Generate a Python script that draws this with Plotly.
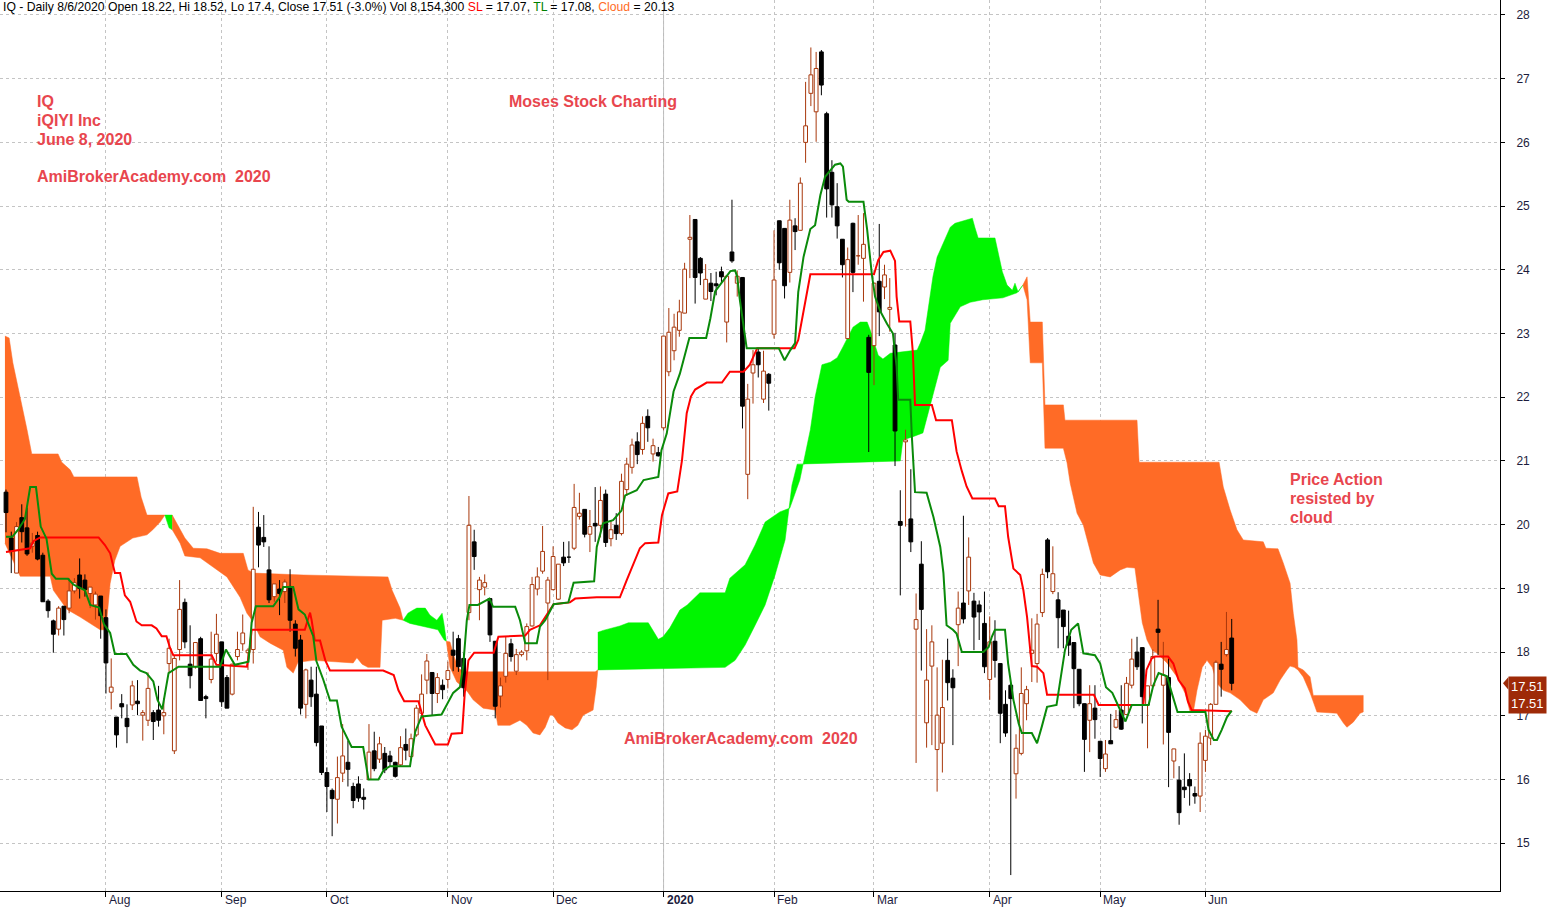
import plotly.graph_objects as go

# ---------------- data ----------------
# bar index 0 = 2019-07-05 ... 233 = 2020-06-08 (trading days)
month_bars = [19, 41, 61, 84, 104, 125, 146, 165, 187, 208, 228]
month_labels = ["Aug", "Sep", "Oct", "Nov", "Dec", "<b>2020</b>", "Feb", "Mar", "Apr", "May", "Jun"]

opens = [20.51,19.79,19.24,20.11,19.95,19.66,19.83,19.52,18.80,18.49,18.36,18.72,18.69,18.96,19.21,19.13,18.92,18.74,18.88,18.54,
 17.37,16.98,17.19,16.96,17.17,17.23,17.01,16.93,17.05,17.09,17.00,17.82,16.45,18.04,18.78,17.81,17.77,18.21,17.30,17.57,
 17.98,18.16,17.60,17.34,17.93,18.13,17.99,18.04,19.96,19.80,19.29,18.87,18.99,18.95,19.03,18.44,18.19,17.18,17.56,17.34,
 16.84,16.11,15.83,15.69,16.10,16.27,15.89,15.93,15.72,16.00,16.45,16.32,16.41,16.37,16.27,16.23,16.55,16.36,16.70,17.04,
 17.56,17.68,17.35,17.48,17.57,18.03,18.21,17.90,18.62,19.73,18.98,19.02,18.84,18.17,17.31,17.62,18.13,17.70,17.96,18.02,
 18.41,18.99,19.27,18.77,18.98,18.83,19.49,19.49,19.63,20.13,20.24,19.85,20.02,19.99,20.48,19.78,19.99,19.86,20.55,20.90,
 21.30,21.18,21.70,21.11,21.13,21.52,22.40,22.73,23.05,23.32,24.48,24.79,24.18,23.54,23.79,23.78,23.97,23.18,24.28,23.79,
 23.88,20.79,22.38,22.71,21.97,22.36,22.99,24.77,24.65,23.96,24.69,24.62,26.00,26.77,26.48,27.42,26.45,25.53,24.99,24.48,
 22.92,24.73,24.22,24.18,22.94,22.81,23.82,23.73,23.38,22.82,20.05,21.30,20.09,18.36,19.38,16.89,17.78,16.47,16.57,17.87,
 17.59,18.43,18.77,18.96,18.80,18.74,18.45,17.57,18.17,17.82,17.18,17.48,16.09,16.41,17.19,17.98,17.82,18.62,19.76,18.95,
 18.82,18.66,18.25,18.15,17.73,17.19,16.93,17.12,16.60,16.17,16.61,16.82,17.09,17.02,17.48,18.00,18.07,17.17,17.47,18.36,
 17.48,17.60,16.29,15.99,15.88,16.00,15.78,15.74,16.30,16.65,17.18,17.81,17.96,18.22]
highs = [20.55,19.89,20.04,20.32,20.27,19.87,19.89,19.56,18.83,18.51,18.72,18.72,19.16,19.16,19.47,19.22,19.02,18.95,18.88,18.67,
 17.90,16.98,17.34,17.18,17.55,17.56,17.09,17.68,17.09,17.47,17.28,18.21,17.95,19.13,18.84,18.42,18.15,18.24,17.33,18.32,
 18.60,18.16,17.64,17.82,18.32,18.59,18.06,20.28,20.20,20.15,19.66,19.07,19.13,19.14,19.30,18.50,18.27,17.74,17.77,17.77,
 16.84,16.19,15.86,16.36,16.87,16.61,15.95,16.05,15.86,16.87,16.75,16.67,16.51,16.45,16.28,16.68,16.80,16.72,17.17,17.65,
 17.97,17.68,17.67,17.57,17.85,18.32,18.27,17.98,20.45,19.92,19.18,19.22,18.84,18.17,17.60,18.25,18.21,18.05,18.03,18.45,
 19.18,19.33,19.98,19.18,19.66,19.38,19.73,19.74,20.64,20.50,20.24,20.23,20.59,20.60,20.55,20.07,20.18,20.80,21.05,21.35,
 21.45,21.70,21.81,21.35,21.22,22.96,23.40,23.31,23.53,24.11,24.86,24.79,24.20,24.09,23.95,23.97,24.05,23.90,25.10,23.99,
 23.88,22.21,22.74,22.77,22.73,22.38,24.62,24.77,24.65,25.10,24.81,25.45,26.95,27.49,27.42,27.45,26.48,25.72,25.36,24.48,
 24.35,24.74,24.86,24.89,22.98,23.80,24.72,24.08,23.87,23.01,20.54,21.49,20.87,18.92,19.74,18.36,18.42,17.76,17.88,18.21,
 17.73,18.95,20.14,19.80,18.93,18.81,18.95,18.56,18.50,17.82,17.40,17.51,16.71,17.76,17.47,18.53,18.60,19.31,19.79,19.66,
 18.94,18.66,18.65,18.15,17.73,17.19,17.48,17.48,16.60,16.62,17.03,17.09,17.48,17.61,18.21,18.24,18.07,17.47,18.04,18.82,
 18.16,17.90,16.48,16.21,16.41,16.10,15.89,16.74,16.78,17.20,17.87,18.16,18.63,18.52]
lows = [19.88,19.24,19.24,19.72,19.51,19.56,19.44,18.79,18.54,17.99,18.26,18.26,18.61,18.92,18.84,18.87,18.69,18.51,18.21,17.35,
 17.10,16.50,16.96,16.57,17.09,17.01,16.61,16.84,16.62,16.83,16.71,17.67,16.40,17.87,18.06,17.43,17.74,17.24,16.96,17.51,
 17.85,17.14,17.12,17.32,17.87,18.02,17.72,17.82,19.33,19.65,18.77,18.79,18.58,18.77,18.32,17.93,17.02,16.96,17.14,16.52,
 16.07,15.49,15.11,15.31,15.96,15.89,15.55,15.65,15.53,15.99,16.13,16.26,16.10,16.20,16.03,16.21,16.30,16.33,16.67,16.98,
 17.34,17.01,17.20,17.26,17.43,17.70,17.69,17.30,18.50,19.29,18.50,18.89,18.16,16.96,17.13,17.52,17.85,17.64,17.93,17.87,
 18.40,18.89,19.23,17.56,18.97,18.82,19.35,19.40,19.60,20.08,19.80,19.57,19.73,19.80,19.65,19.66,19.76,19.83,20.45,20.80,
 20.95,21.10,21.30,20.99,21.07,21.48,22.33,22.58,22.95,23.32,23.87,23.47,23.76,23.54,23.51,23.60,23.79,22.86,24.11,23.58,
 21.51,20.40,21.90,22.31,21.91,21.79,22.92,24.00,23.55,23.80,24.31,24.62,25.68,26.57,26.01,26.74,24.82,24.82,24.49,23.88,
 22.92,23.65,24.08,23.50,21.14,22.19,22.96,23.54,23.03,20.92,18.89,19.97,19.57,16.26,17.71,16.50,16.54,15.81,16.11,17.24,
 16.54,17.78,18.45,18.74,18.03,18.19,17.67,17.25,17.60,16.57,16.67,14.50,15.70,16.38,16.93,17.53,17.52,18.55,19.16,18.91,
 18.06,18.06,17.94,17.12,17.15,16.12,16.43,16.64,16.04,16.12,16.56,16.80,16.78,17.01,17.43,17.72,16.88,16.49,17.47,17.95,
 16.55,15.88,16.02,15.29,15.71,15.59,15.62,15.49,16.12,16.54,17.18,17.30,17.93,17.40]
closes = [20.19,19.58,19.97,19.89,19.54,19.71,19.46,18.79,18.65,18.28,18.69,18.51,18.96,19.09,19.00,18.98,19.02,18.91,18.57,17.83,
 17.45,16.70,17.14,16.83,17.47,17.19,17.05,17.43,16.91,16.93,17.05,18.06,17.90,18.67,18.16,17.63,18.15,17.24,17.27,17.89,
 18.28,17.22,17.12,17.81,18.04,18.30,18.03,19.30,19.68,19.73,18.82,19.07,18.92,19.10,18.50,18.06,17.12,17.72,17.30,16.58,
 16.11,15.89,15.70,16.03,16.37,16.16,15.67,15.71,15.69,16.43,16.17,16.56,16.15,16.28,16.05,16.50,16.46,16.64,17.12,17.34,
 17.86,17.35,17.60,17.41,17.71,17.95,17.77,17.44,19.99,19.50,19.13,19.09,18.27,17.15,17.47,17.98,17.93,17.96,18.00,18.40,
 19.06,19.18,19.58,19.13,19.50,19.38,19.40,19.48,20.27,20.18,19.85,19.97,19.98,20.38,19.72,19.92,19.86,20.68,20.95,21.25,
 21.10,21.59,21.52,21.24,21.08,22.96,23.02,23.10,23.34,24.01,24.51,23.88,23.95,23.85,23.66,23.75,23.89,23.90,24.14,23.90,
 21.86,21.97,22.51,22.51,22.41,22.22,23.84,24.11,23.75,24.78,24.60,25.36,26.26,27.06,27.16,26.90,25.27,25.02,24.69,24.08,
 24.16,23.96,24.23,24.40,22.39,23.79,23.34,23.92,23.41,21.47,19.99,21.33,19.73,18.51,18.67,17.56,18.16,17.01,17.13,17.52,
 17.44,18.69,18.52,19.49,18.55,18.63,17.77,18.16,17.87,17.04,16.73,17.27,16.49,17.35,17.41,18.03,18.44,19.22,19.26,19.23,
 18.54,18.40,18.11,17.74,17.19,16.63,17.19,16.94,16.33,16.40,16.56,16.94,16.79,17.51,17.89,17.77,17.30,17.47,17.93,18.31,
 17.64,16.74,16.48,15.48,15.84,15.90,15.74,16.57,16.68,17.18,17.84,17.73,18.04,17.51]

# Turning line (TL, green) vertices: (bar, price)
tenkan = [(0,19.81),(1.2,19.81),(2.3,19.92),(3.6,20.09),(4.6,20.59),(5.7,20.59),(6.6,19.97),(7.7,19.78),(8.7,19.23),(9.5,19.15),
 (11.8,19.15),(12.8,19.06),(15.0,18.97),(16.0,18.74),(17.7,18.70),(18.6,18.44),(19.8,18.30),(20.7,17.97),(22.9,17.97),(24.2,17.80),
 (25.5,17.71),(26.7,17.67),(28.0,17.54),(28.8,17.25),(29.7,17.10),(30.9,17.67),(32.8,17.77),(40.7,17.77),(41.8,18.04),(43.5,17.80),
 (46.1,17.85),(46.7,18.46),(47.5,18.72),(50.8,18.72),(52.0,18.86),(52.7,19.02),(54.6,19.02),(55.6,18.67),(56.8,18.59),(58.4,18.25),
 (59.0,17.86),(60.3,17.57),(61.6,17.24),(62.9,17.24),(63.8,16.83),(65.7,16.51),(67.9,16.51),(68.9,16.00),(70.8,16.00),(71.8,16.15),
 (73.0,16.21),(76.8,16.21),(77.8,16.75),(79.0,16.99),(82.8,17.02),(84.1,17.22),(85.0,17.36),(86.3,17.45),(86.9,17.77),(87.6,18.50),
 (88.1,18.74),(89.7,18.74),(91.9,18.84),(92.6,18.71),(96.8,18.71),(97.7,18.50),(98.7,18.14),(100.9,18.14),(101.5,18.40),(102.5,18.50),
 (104.1,18.75),(106.9,18.78),(107.9,19.09),(111.8,19.11),(112.3,19.65),(113.5,20.02),(115.4,20.07),(117.0,20.22),(117.7,20.46),(119.9,20.54),
 (121.2,20.70),(124.0,20.75),(124.6,21.17),(125.6,21.43),(126.9,22.09),(128.1,22.37),(129.9,22.93),(133.1,22.93),(133.9,23.24),(134.8,23.66),
 (136.4,23.84),(137.7,23.98),(138.6,23.99),(139.0,23.89),(139.5,23.53),(140.5,22.95),(140.8,22.77),(146.9,22.77),(148.0,22.58),(149.1,22.74),
 (150.0,22.85),(150.6,23.65),(151.6,24.20),(152.9,24.64),(153.8,24.70),(154.8,25.17),(155.7,25.46),(157.6,25.65),(158.6,25.67),(159.1,25.62),
 (159.8,25.10),(160.2,25.07),(163.0,25.07),(163.7,24.63),(164.6,23.92),(165.2,23.58),(166.2,23.35),(167.5,23.15),(168.6,23.00),(169.3,22.48),
 (169.6,21.96),(171.9,21.96),(172.2,21.38),(172.8,20.51),(175.0,20.50),(176.3,20.12),(177.6,19.65),(178.2,19.24),(178.8,18.42),(180.0,18.35),
 (180.7,18.29),(181.7,18.00),(185.8,18.00),(186.8,18.08),(187.4,18.24),(188.0,18.35),(189.9,18.35),(190.5,17.82),(191.5,17.25),(192.5,16.88),
 (193.1,16.73),(195.0,16.73),(196.0,16.57),(196.9,16.83),(197.9,17.14),(199.7,17.17),(200.4,17.56),(201.3,18.03),(202.5,18.35),(203.8,18.45),
 (204.8,17.98),(207.0,17.95),(208.0,17.82),(209.1,17.45),(210.3,17.36),(211.2,17.20),(211.9,17.09),(212.8,16.91),(213.2,17.00),(214.0,17.17),
 (217.2,17.17),(218.1,17.48),(219.1,17.67),(220.7,17.62),(221.6,17.36),(222.7,17.06),(228.0,17.06),(228.6,16.78),(229.6,16.62),(230.2,16.62),
 (231.1,16.78),(232.1,16.98),(233.0,17.08)]

# Standard line (SL, red) vertices: (bar, price)
kijun = [(0,19.57),(4.6,19.63),(5.2,19.74),(6.5,19.80),(17.6,19.80),(18.8,19.68),(19.8,19.55),(20.7,19.24),(21.7,19.24),(22.6,18.89),
 (23.6,18.79),(24.2,18.63),(24.8,18.48),(25.8,18.42),(27.7,18.42),(28.6,18.37),(29.6,18.25),(30.5,18.25),(31.2,18.06),(31.8,17.95),
 (39.1,17.95),(40.0,17.80),(45.8,17.77),(46.3,18.03),(46.7,18.35),(56.8,18.35),(57.8,18.62),(58.1,18.50),(58.7,18.18),(59.7,18.18),
 (60.7,17.87),(61.6,17.71),(71.7,17.71),(73.7,17.64),(74.6,17.40),(75.7,17.23),(78.4,17.23),(79.7,16.85),(81.6,16.55),(84.0,16.55),
 (84.7,16.72),(86.7,16.73),(87.2,17.35),(87.9,17.87),(89.0,17.99),(92.7,17.99),(93.6,18.24),(98.7,18.26),(99.6,18.35),(101.5,18.42),
 (102.8,18.58),(104.1,18.75),(107.2,18.78),(108.2,18.84),(112.3,18.86),(116.7,18.86),(118.0,19.13),(120.5,19.63),(121.5,19.71),(124.0,19.72),
 (124.7,20.15),(125.3,20.33),(125.9,20.49),(127.6,20.52),(128.5,21.01),(129.4,21.75),(130.2,22.01),(131.0,22.12),(133.2,22.23),(136.1,22.23),
 (137.6,22.40),(140.2,22.40),(141.4,22.51),(142.8,22.77),(149.9,22.77),(150.6,22.90),(151.6,23.34),(152.5,23.76),(152.9,23.93),(165.0,23.93),
 (165.8,24.15),(166.8,24.28),(168.1,24.30),(169.0,24.14),(169.3,23.58),(169.8,23.19),(171.9,23.19),(172.4,22.69),(172.8,21.88),(176.0,21.88),
 (176.8,21.64),(179.8,21.64),(180.7,21.15),(181.7,20.84),(182.6,20.60),(183.7,20.41),(188.0,20.41),(188.7,20.29),(189.9,20.29),(190.5,19.81),
 (191.5,19.31),(192.8,19.21),(193.4,18.97),(194.1,18.55),(194.7,18.03),(195.0,17.78),(196.0,17.77),(197.2,17.67),(197.9,17.33),(206.8,17.33),
 (207.7,17.17),(216.2,17.17),(216.8,17.72),(217.8,17.90),(218.4,17.93),(220.9,17.93),(221.9,17.82),(222.9,17.56),(224.1,17.43),(224.7,17.22),
 (225.4,17.09),(233.0,17.07)]

# Cloud regions (shifted forward), upper and lower edges: (bar, price)
o1_top = [(-0.2,22.96),(0.6,22.93),(1.3,22.54),(2.7,22.01),(4.0,21.49),(4.9,21.11),(9.9,21.11),(10.6,20.98),(12.2,20.86),(12.9,20.75),
 (24.9,20.75),(25.7,20.43),(26.8,20.15),(30.2,20.15)]
o1_bot = [(-0.2,19.71),(1.3,19.44),(2.7,19.19),(8.4,19.19),(9.0,18.97),(10.3,18.82),(11.6,18.67),(14.1,18.55),(17.9,18.35),(19.0,18.35),
 (19.8,19.08),(20.7,19.44),(21.7,19.66),(24.1,19.79),(26.8,19.84),(27.9,19.92),(29.3,20.04),(30.2,20.15)]
g1_top = [(30.2,20.15),(31.6,20.15)]
g1_bot = [(30.2,20.15),(31.0,19.95),(31.6,19.92)]
o2_top = [(31.6,20.15),(33.5,19.87),(34.0,19.79),(35.6,19.63),(38.2,19.62),(40.7,19.55),(45.1,19.55),(46.0,19.29),(47.0,19.24),(56.5,19.21),
 (72.6,19.18),(73.4,18.97),(74.3,18.79),(74.9,18.69),(75.5,18.50)]
o2_bot = [(31.6,19.92),(33.1,19.71),(34.0,19.51),(36.9,19.48),(39.4,19.33),(42.0,19.18),(44.5,18.86),(45.8,18.61),(46.8,18.50),(48.3,18.24),
 (50.2,18.14),(52.7,18.03),(53.4,17.76),(54.6,17.67),(55.5,17.84),(58.4,17.87),(66.0,17.83),(66.7,17.91),(67.7,17.81),(68.8,17.76),
 (71.1,17.76),(71.5,18.50),(74.0,18.53),(75.5,18.50)]
g2_top = [(75.5,18.50),(76.4,18.61),(77.4,18.66),(78.1,18.69),(79.7,18.69),(80.6,18.58),(81.9,18.50),(82.9,18.61),(83.3,18.42),(83.7,18.17)]
g2_bot = [(75.5,18.50),(76.8,18.45),(80.0,18.39),(82.1,18.35),(83.3,18.19),(83.7,18.17)]
o3_top = [(83.7,18.17),(84.4,18.16),(85.0,17.98),(85.9,17.76),(86.9,17.69),(112.0,17.69),(112.5,17.72)]
o3_bot = [(83.7,18.17),(84.4,17.76),(85.7,17.53),(86.9,17.45),(87.8,17.37),(88.8,17.25),(90.7,17.12),(93.0,17.09),(93.5,16.85),(95.8,16.85),
 (97.7,16.93),(99.0,16.85),(100.2,16.73),(101.5,16.70),(102.5,16.82),(103.4,17.01),(104.0,17.01),(104.9,16.89),(106.3,16.81),(107.6,16.78),
 (108.7,16.85),(109.7,17.01),(111.6,17.09),(112.2,17.45),(112.5,17.72)]
g3_top = [(112.5,18.31),(113.5,18.34),(116.7,18.41),(118.3,18.46),(122.1,18.46),(124.0,18.20),(124.9,18.24),(126.2,18.38),(128.1,18.66),(129.5,18.74),
 (131.9,18.93),(136.7,18.93),(137.6,19.16),(140.5,19.37),(142.4,19.68),(144.3,20.04),(147.1,20.20),(149.0,20.26),(150.9,20.70),(152.9,21.49),
 (153.8,22.00),(155.1,22.51),(156.7,22.55),(158.0,22.62),(159.1,22.79),(160.1,22.95),(161.0,23.10),(162.4,23.18),(163.7,23.18),(164.3,23.05),
 (165.8,22.66),(166.7,22.60),(168.1,22.69),(173.2,22.74),(173.8,22.85),(174.7,23.05),(175.3,23.37),(175.7,23.65),(176.2,23.89),(177.0,24.20),
 (178.1,24.42),(179.5,24.67),(180.4,24.73),(182.7,24.78),(183.7,24.81),(184.2,24.66),(184.8,24.50),(188.0,24.50),(189.4,23.97),(190.3,23.76),
 (191.3,23.68),(191.8,23.79),(192.4,23.65),(193.3,23.76)]
g3_bot = [(112.5,17.72),(136.7,17.76),(138.6,17.87),(140.5,18.11),(142.4,18.42),(144.3,18.74),(146.2,19.21),(148.1,19.76),(149.4,20.62),(150.4,20.95),
 (170.0,21.00),(170.5,21.33),(172.4,21.38),(174.3,21.44),(175.3,21.75),(176.6,22.16),(177.6,22.47),(179.1,22.58),(179.5,23.16),(181.4,23.42),
 (183.3,23.49),(185.7,23.53),(189.5,23.56),(192.2,23.64),(193.3,23.76)]
o4_top = [(193.3,23.76),(194.1,23.89),(194.7,23.18),(197.0,23.18),(197.5,21.88),(201.0,21.88),(201.3,21.64),(215.0,21.64),(215.4,20.98),(230.6,20.98),
 (231.4,20.59),(232.7,20.23),(234.0,19.92),(235.2,19.76),(239.0,19.73),(239.5,19.63),(241.8,19.62),(242.8,19.40),(244.1,19.08),(244.7,18.61),
 (245.4,18.19),(245.6,17.76),(246.6,17.72),(247.9,17.61),(248.5,17.32),(258.0,17.32)]
o4_bot = [(193.3,23.76),(194.1,23.53),(194.7,22.54),(197.0,22.54),(197.5,21.20),(201.0,21.20),(201.7,20.97),(202.3,20.65),(203.6,20.18),(204.8,19.99),
 (206.1,19.60),(206.7,19.40),(208.0,19.21),(209.9,19.18),(211.8,19.29),(213.1,19.33),(214.6,19.32),(215.2,18.97),(216.0,18.46),(216.9,18.19),
 (217.9,18.03),(218.8,17.98),(220.7,17.83),(222.6,17.61),(224.1,17.36),(225.1,17.06),(225.7,17.06),(226.4,17.40),(227.4,17.76),(228.3,17.87),
 (229.3,17.76),(230.2,17.51),(231.4,17.40),(232.7,17.36),(234.6,17.25),(236.5,17.09),(237.8,17.04),(239.0,17.25),(240.9,17.36),(242.2,17.56),
 (243.5,17.72),(244.1,17.78),(244.9,17.76),(245.6,17.72),(246.6,17.61),(247.9,17.36),(249.2,17.06),(253.0,17.04),(254.2,16.89),(254.9,16.82),
 (256.1,16.90),(257.4,17.04),(258.0,17.06)]

last_close = 17.51
y_ticks = list(range(15, 29))

# ---------------- styles ----------------
ORANGE = "#FF6B26"
LIME = "#00F500"
TL_GREEN = "#0A8A0A"
SL_RED = "#FF0000"
UP_BROWN = "#A8380C"
TXT_RED = "#E8464E"
FONT = "Liberation Sans, Arial, sans-serif"
BODY_HALF = 0.36   # half body width, in bars
W, H = 1500.0, 891.0  # plot area px

def px(x):
    return x / W

def py(y):
    return 1 - y / H

fig = go.Figure()

clouds = [(o1_top, o1_bot, ORANGE), (g1_top, g1_bot, LIME), (o2_top, o2_bot, ORANGE),
          (g2_top, g2_bot, LIME), (o3_top, o3_bot, ORANGE), (g3_top, g3_bot, LIME),
          (o4_top, o4_bot, ORANGE)]
for top, bot, col in clouds:
    xs = [b for b, _ in top] + [b for b, _ in reversed(bot)]
    ys = [p for _, p in top] + [p for _, p in reversed(bot)]
    fig.add_trace(go.Scatter(x=xs, y=ys, mode="lines", fill="toself", fillcolor=col,
                             line=dict(width=0.5, color=col), hoverinfo="skip", showlegend=False))

# candlesticks: wicks (segments) first, then bodies (filled rectangles) so hollow bodies hide the wick
bars = list(range(len(opens)))
for up in (True, False):
    idx = [i for i in bars if (closes[i] >= opens[i]) == up]
    col = UP_BROWN if up else "black"
    wx, wy = [], []
    for i in idx:
        wx += [i, i, None]
        wy += [lows[i], highs[i], None]
    fig.add_trace(go.Scatter(x=wx, y=wy, mode="lines", line=dict(color=col, width=1),
                             hoverinfo="skip", showlegend=False))
for up in (True, False):
    idx = [i for i in bars if (closes[i] >= opens[i]) == up]
    col = UP_BROWN if up else "black"
    for i in idx:
        x0, x1 = i - BODY_HALF, i + BODY_HALF
        fig.add_trace(go.Scatter(
            x=[x0, x1, x1, x0, x0], y=[opens[i], opens[i], closes[i], closes[i], opens[i]],
            mode="lines", fill="toself", fillcolor="white" if up else "black",
            line=dict(color=col, width=1), hoverinfo="skip", showlegend=False))

fig.add_trace(go.Scatter(x=[b for b, _ in kijun], y=[p for _, p in kijun], mode="lines",
                         line=dict(color=SL_RED, width=2), showlegend=False, hoverinfo="skip"))
fig.add_trace(go.Scatter(x=[b for b, _ in tenkan], y=[p for _, p in tenkan], mode="lines",
                         line=dict(color=TL_GREEN, width=2), showlegend=False, hoverinfo="skip"))

ann = []
header = ("IQ - Daily 8/6/2020 Open 18.22, Hi 18.52, Lo 17.4, Close 17.51 (-3.0%) Vol 8,154,300 "
          "<span style='color:#FF0000'>SL</span> = 17.07, <span style='color:#008000'>TL</span> = 17.08, "
          "<span style='color:#FF6B26'>Cloud</span> = 20.13")
ann.append(dict(x=px(1), y=py(7), xref="paper", yref="paper", text=header, showarrow=False,
                xanchor="left", yanchor="middle", font=dict(family=FONT, size=12.2, color="black")))
for txt, x0, y0 in [("IQ", 36, 101), ("iQIYI Inc", 36, 120), ("June 8, 2020", 36, 139),
                    ("AmiBrokerAcademy.com  2020", 36, 177), ("Moses Stock Charting", 508, 101),
                    ("AmiBrokerAcademy.com  2020", 623, 738), ("Price Action", 1289, 479),
                    ("resisted by", 1289, 498), ("cloud", 1289, 517)]:
    ann.append(dict(x=px(x0), y=py(y0), xref="paper", yref="paper", text="<b>" + txt + "</b>",
                    showarrow=False, xanchor="left", yanchor="middle", borderpad=0,
                    font=dict(family=FONT, size=16, color=TXT_RED)))
for b, lab in zip(month_bars, month_labels):
    ann.append(dict(x=b, y=0, xref="x", yref="paper", text=lab, showarrow=False, xanchor="left",
                    yanchor="top", xshift=1, yshift=0, font=dict(family=FONT, size=12, color="#1C1C3C")))
ann.append(dict(x=1, y=last_close, xref="paper", yref="y", text="17.51<br>17.51", showarrow=False,
                xanchor="left", yanchor="top", xshift=8, yshift=7, bgcolor="#9E2A08", borderpad=2,
                font=dict(family=FONT, size=13, color="white")))

shapes = [dict(type="path", xref="paper", yref="y",
               path=f"M 1.002,{last_close} L 1.0056,{last_close + 0.1} L 1.0056,{last_close - 0.1} Z",
               fillcolor="#9E2A08", line=dict(width=0)),
          dict(type="line", xref="x", yref="paper", x0=125, x1=125, y0=0, y1=1,
               line=dict(color="#B8B8B8", width=1), layer="below")]

fig.update_layout(
    width=1561, height=908, margin=dict(l=0, r=61, t=0, b=17),
    paper_bgcolor="white", plot_bgcolor="white", showlegend=False,
    annotations=ann, shapes=shapes, font=dict(family=FONT),
    xaxis=dict(range=[-1.14, 284.0], tickvals=month_bars, ticktext=[""] * len(month_bars),
               ticks="outside", ticklen=5, tickcolor="black", showgrid=True, gridcolor="#C4C4C4",
               griddash="dot", gridwidth=1, showline=True, linecolor="black", linewidth=1,
               zeroline=False, fixedrange=True),
    yaxis=dict(range=[14.25, 28.235], side="right", tickvals=y_ticks, ticks="outside", ticklen=4,
               tickcolor="black", showgrid=True, gridcolor="#C4C4C4", griddash="dot", gridwidth=1,
               showline=True, linecolor="black", linewidth=1, zeroline=False, ticklabelstandoff=9,
               tickfont=dict(family=FONT, size=12, color="#1C1C3C")),
)

fig.write_html("out.html", config={"displayModeBar": False})
# remove the browser's default page margin so the figure sits at the window's top-left
with open("out.html", "r", encoding="utf-8") as f:
    html = f.read()
html = html.replace("<head>", "<head><style>html,body{margin:0;padding:0;overflow:hidden;}</style>", 1)
with open("out.html", "w", encoding="utf-8") as f:
    f.write(html)
